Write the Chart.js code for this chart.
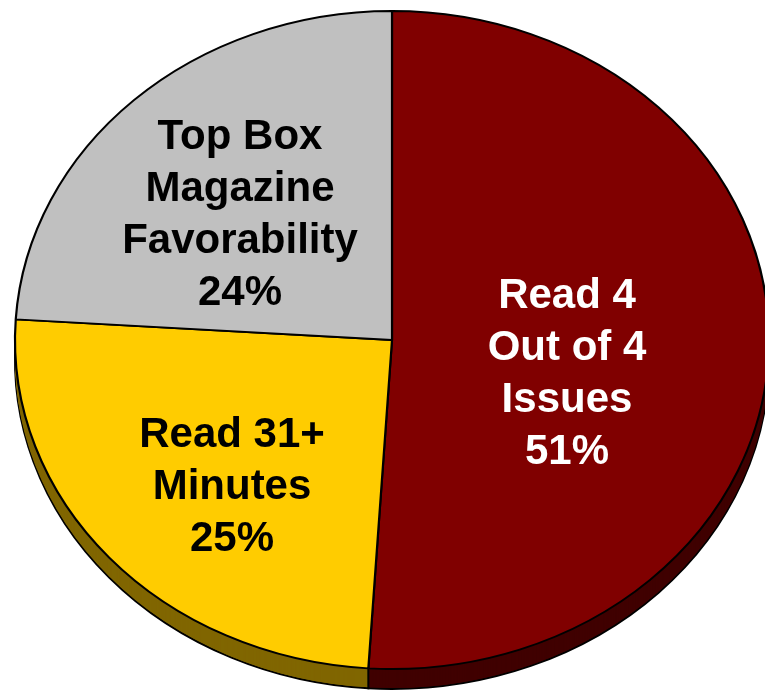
<!DOCTYPE html>
<html>
<head>
<meta charset="utf-8">
<script src="https://cdn.jsdelivr.net/npm/chart.js@4.4.0/dist/chart.umd.min.js"></script>
<style>
    html, body { margin: 0; padding: 0; background: #fff; }
    #wrap { width: 765px; height: 690px; }
</style>
</head>
<body>
<div id="wrap"><canvas id="pieChart"></canvas></div>
<script>
// Slices, clockwise from 12 o'clock
const sliceLabels = [['Read 4', 'Out of 4', 'Issues'], ['Read 31+', 'Minutes'], ['Top Box', 'Magazine', 'Favorability']];
const sliceValues = [51, 25, 24];
const topColors = ['#800000', '#FFCC00', '#C0C0C0'];
const sideColors = ['#400000', '#806600', '#606060'];
const textColors = ['#FFFFFF', '#000000', '#000000'];

// Tilted pie geometry (screen pixels)
const CX = 392, CY = 340, RX = 377, RY = 329, DEPTH = 20;
const labelCenters = [[567, 374], [232, 487], [240, 215]];

function ellipsePath(ctx, arc, sx, sy, dy) {
    ctx.save();
    ctx.translate(CX, CY + dy);
    ctx.scale(sx, sy);
    ctx.beginPath();
    ctx.moveTo(0, 0);
    ctx.arc(0, 0, arc.outerRadius, arc.startAngle, arc.endAngle);
    ctx.closePath();
    ctx.restore();
}

const tiltPlugin = {
    id: 'tilt',
    beforeDatasetsDraw(chart) {
        const ctx = chart.ctx;
        const arcs = chart.getDatasetMeta(0).data;
        const r = arcs[0].outerRadius;
        const sx = RX / r, sy = RY / r;

        // side walls
        for (let d = DEPTH; d >= 1; d--) {
            arcs.forEach(function(a, i) {
                ellipsePath(ctx, a, sx, sy, d);
                ctx.fillStyle = sideColors[i];
                ctx.fill();
                if (d === DEPTH) {
                    ctx.lineWidth = 2;
                    ctx.strokeStyle = '#000';
                    ctx.stroke();
                }
            });
        }
        // vertical edges where slices meet on the front
        ctx.lineWidth = 2;
        ctx.strokeStyle = '#000';
        arcs.forEach(function(a) {
            if (Math.sin(a.startAngle) > 0.05) {
                const x = CX + Math.cos(a.startAngle) * RX;
                const y = CY + Math.sin(a.startAngle) * RY;
                ctx.beginPath();
                ctx.moveTo(x, y);
                ctx.lineTo(x, y + DEPTH);
                ctx.stroke();
            }
        });

        // squash the top face into an ellipse
        ctx.save();
        ctx.translate(CX, CY);
        ctx.scale(sx, sy);
        ctx.translate(-arcs[0].x, -arcs[0].y);
    },
    afterDatasetsDraw(chart) {
        chart.ctx.restore();
    },
    afterDraw(chart) {
        const ctx = chart.ctx;
        ctx.save();
        ctx.font = 'bold 42px "Liberation Sans", Arial, sans-serif';
        ctx.textAlign = 'center';
        ctx.textBaseline = 'middle';
        const lineH = 52;
        sliceLabels.forEach(function(lines, i) {
            const all = lines.concat([sliceValues[i] + '%']);
            const c = labelCenters[i];
            const y0 = c[1] - (all.length - 1) * lineH / 2;
            ctx.fillStyle = textColors[i];
            all.forEach(function(t, k) {
                ctx.fillText(t, c[0], y0 + k * lineH);
            });
        });
        ctx.restore();
    }
};

document.addEventListener('DOMContentLoaded', function() {
    const ctx = document.getElementById('pieChart').getContext('2d');
    new Chart(ctx, {
        type: 'pie',
        data: {
            labels: sliceLabels.map(function(l) { return l.join(' '); }),
            datasets: [{
                data: sliceValues,
                backgroundColor: topColors,
                borderColor: '#000000',
                borderWidth: 2
            }]
        },
        options: {
            responsive: true,
            maintainAspectRatio: false,
            animation: false,
            layout: { padding: 0 },
            plugins: {
                legend: { display: false },
                tooltip: { enabled: false }
            }
        },
        plugins: [tiltPlugin]
    });
});
</script>
</body>
</html>
